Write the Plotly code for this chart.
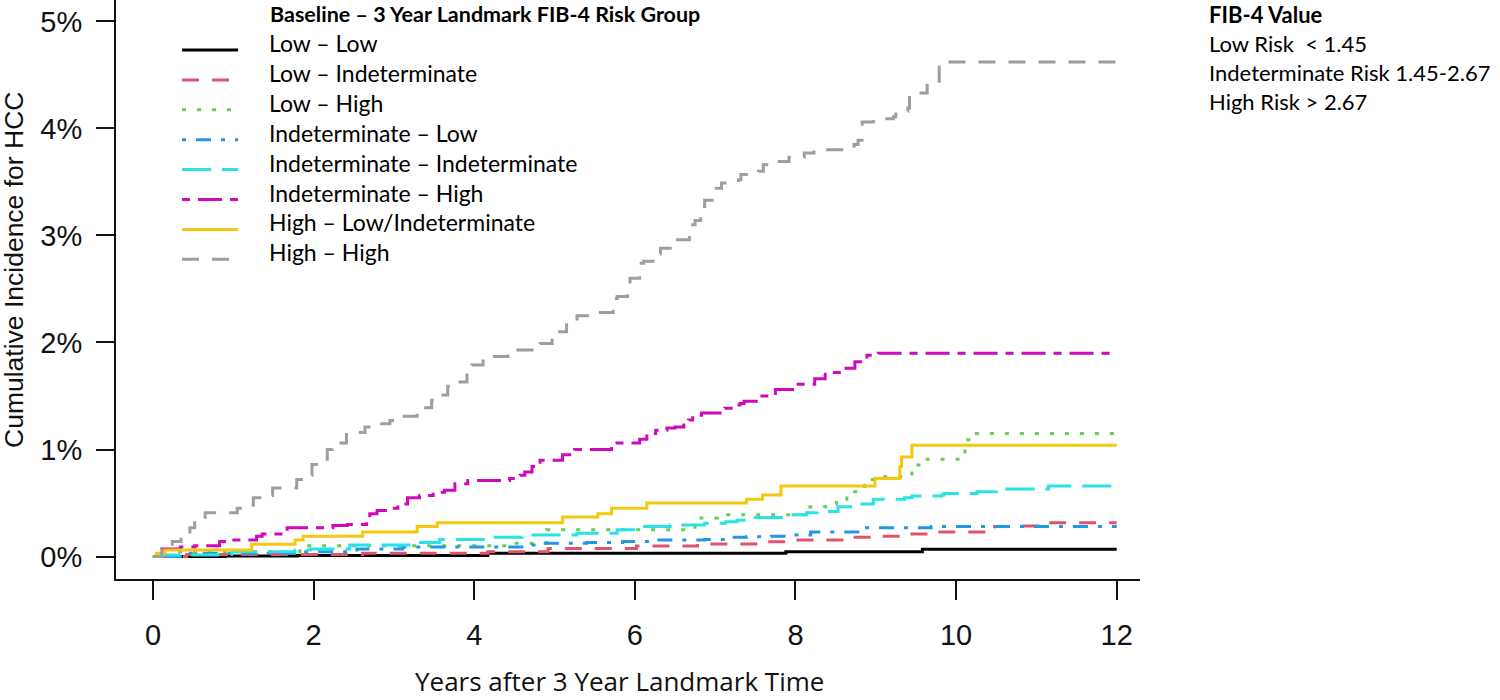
import plotly.graph_objects as go

# ---------------- data (years after landmark, cumulative incidence in %) ----------------
series_names = ["Low – Low", "Low – Indeterminate", "Low – High", "Indeterminate – Low",
                "Indeterminate – Indeterminate", "Indeterminate – High",
                "High – Low/Indeterminate", "High – High"]
series_colors = ["#000000", "#DF536B", "#61D04F", "#2297E6", "#28E2E5", "#CD0BBC", "#F5C710", "#9E9E9E"]
series_dash = ["solid", "17px,13px", "4px,11px", "4px,10px,15px,10px", "29px,11px",
               "8px,8px,24px,8px", "solid", "17px,13px"]

low_low_t = [0, 0.9, 1.8, 4.17, 7.88, 9.58, 12]
low_low_y = [0, 0.005, 0.01, 0.03, 0.045, 0.067, 0.067]

low_ind_t = [0, 0.42, 2.61, 4.17, 4.92, 6.02, 6.78, 7.55, 7.88, 8.62, 8.99, 9.34, 9.71, 10.46, 10.48, 10.80, 11.18, 12]
low_ind_y = [0, 0.02, 0.03, 0.045, 0.076, 0.098, 0.117, 0.138, 0.154, 0.18, 0.19, 0.21, 0.23, 0.254, 0.28, 0.285, 0.316, 0.316]

low_high_t = [0, 0.3, 1.83, 4.48, 4.90, 6.75, 7.03, 8.18, 8.40, 8.51, 8.64, 8.86, 9.04, 9.45, 9.58, 10.11, 10.22, 12]
low_high_y = [0, 0.045, 0.10, 0.125, 0.25, 0.36, 0.39, 0.465, 0.49, 0.535, 0.605, 0.72, 0.745, 0.855, 0.91, 1.09, 1.15, 1.15]

ind_low_t = [0, 0.37, 1.83, 2.54, 3.11, 4.67, 4.82, 5.40, 5.85, 6.22, 6.87, 7.20, 7.39, 7.70, 7.90, 8.19, 8.86, 9.69, 12]
ind_low_y = [0, 0.03, 0.045, 0.07, 0.09, 0.107, 0.123, 0.13, 0.14, 0.155, 0.16, 0.18, 0.185, 0.19, 0.20, 0.23, 0.27, 0.28, 0.28]

ind_ind_t = [0, 0.12, 0.80, 0.98, 1.77, 1.96, 2.45, 3.24, 3.57, 4.16, 4.60, 5.28, 5.78, 6.09, 6.44, 6.87, 7.13,
             7.27, 7.48, 7.97, 8.14, 8.27, 8.53, 8.79, 8.97, 9.36, 9.45, 9.82, 9.85, 10.26, 10.50, 11.15, 12]
ind_ind_y = [0, 0.015, 0.02, 0.045, 0.06, 0.07, 0.107, 0.13, 0.16, 0.18, 0.20, 0.217, 0.25, 0.28, 0.295, 0.31, 0.325,
             0.34, 0.365, 0.39, 0.41, 0.42, 0.465, 0.49, 0.535, 0.55, 0.565, 0.575, 0.59, 0.605, 0.63, 0.66, 0.66]

ind_high_t = [0, 0.05, 0.11, 0.34, 0.52, 0.83, 0.96, 1.29, 1.36, 1.67, 2.24, 2.42, 2.66, 2.70, 2.79, 2.95, 3.05, 3.17,
              3.32, 3.49, 3.63, 3.76, 3.92, 4.44, 4.57, 4.63, 4.72, 4.82, 5.10, 5.25, 5.71, 6.06, 6.15, 6.26, 6.40,
              6.50, 6.61, 6.67, 6.72, 6.83, 7.12, 7.20, 7.31, 7.36, 7.56, 7.75, 8.0, 8.24, 8.37, 8.61, 8.74, 8.89,
              9.03, 12]
ind_high_y = [0, 0.05, 0.07, 0.09, 0.10, 0.14, 0.155, 0.19, 0.21, 0.27, 0.29, 0.30, 0.36, 0.40, 0.43, 0.45, 0.49, 0.55,
              0.57, 0.60, 0.62, 0.68, 0.71, 0.73, 0.76, 0.79, 0.84, 0.90, 0.95, 1.00, 1.06, 1.095, 1.15, 1.18, 1.20,
              1.21, 1.245, 1.275, 1.32, 1.34, 1.385, 1.415, 1.43, 1.45, 1.50, 1.56, 1.61, 1.66, 1.72, 1.76, 1.82, 1.88,
              1.90, 1.90]

high_li_t = [0, 0.05, 0.15, 1.23, 1.77, 1.87, 2.61, 3.29, 3.54, 5.10, 5.54, 5.71, 6.15, 7.39, 7.59, 7.82, 8.99, 9.30, 9.32, 9.45, 12]
high_li_y = [0, 0.03, 0.06, 0.115, 0.155, 0.19, 0.23, 0.28, 0.315, 0.37, 0.40, 0.45, 0.50, 0.535, 0.575, 0.66, 0.73, 0.84, 0.93, 1.04, 1.04]

high_high_t = [0, 0.11, 0.24, 0.35, 0.46, 0.52, 0.65, 1.05, 1.11, 1.25, 1.33, 1.49, 1.79, 1.85, 1.98, 2.08, 2.17, 2.23,
               2.41, 2.51, 2.64, 2.79, 2.95, 3.07, 3.29, 3.32, 3.47, 3.55, 3.67, 3.76, 3.91, 3.97, 4.11, 4.19, 4.42,
               4.72, 4.82, 4.97, 5.00, 5.15, 5.28, 5.48, 5.73, 5.78, 5.91, 5.94, 6.06, 6.11, 6.30, 6.32, 6.47, 6.68,
               6.75, 6.82, 6.87, 6.99, 7.08, 7.29, 7.32, 7.54, 7.60, 7.80, 7.92, 8.11, 8.23, 8.73, 8.78, 8.83, 8.97,
               9.22, 9.25, 9.40, 9.42, 9.45, 9.64, 9.79, 12]
high_high_y = [0, 0.06, 0.14, 0.19, 0.27, 0.33, 0.41, 0.45, 0.48, 0.55, 0.57, 0.64, 0.72, 0.76, 0.86, 0.89, 1.00, 1.06,
               1.14, 1.16, 1.21, 1.24, 1.27, 1.31, 1.34, 1.39, 1.46, 1.51, 1.59, 1.63, 1.71, 1.79, 1.85, 1.87, 1.93,
               1.96, 1.99, 2.05, 2.10, 2.19, 2.25, 2.28, 2.41, 2.43, 2.55, 2.60, 2.74, 2.76, 2.83, 2.88, 2.96, 3.10,
               3.14, 3.27, 3.33, 3.44, 3.49, 3.52, 3.57, 3.60, 3.66, 3.69, 3.73, 3.77, 3.80, 3.85, 3.89, 4.06, 4.09,
               4.11, 4.16, 4.19, 4.31, 4.33, 4.42, 4.62, 4.62]

series_t = [low_low_t, low_ind_t, low_high_t, ind_low_t, ind_ind_t, ind_high_t, high_li_t, high_high_t]
series_y = [low_low_y, low_ind_y, low_high_y, ind_low_y, ind_ind_y, ind_high_y, high_li_y, high_high_y]

x_ticks = [0, 2, 4, 6, 8, 10, 12]
y_ticks = [0, 1, 2, 3, 4, 5]
y_tick_labels = ["0%", "1%", "2%", "3%", "4%", "5%"]

legend_title = "Baseline – 3 Year Landmark FIB-4 Risk Group"
fib_title = "FIB-4 Value"
fib_lines = ["Low Risk  < 1.45", "Indeterminate Risk 1.45-2.67", "High Risk > 2.67"]
x_title = "Years after 3 Year Landmark Time"
y_title = "Cumulative Incidence for HCC"

# ---------------- layout geometry ----------------
W, H = 1500, 700
ML = 116
PLOT_R = 1140
PLOT_B = 579
MR, MT, MB = W - PLOT_R, 0, H - PLOT_B
PW, PH = W - ML - MR, H - MT - MB


def px_x(p):
    return (p - ML) / PW


def px_y(p):
    return (PLOT_B - p) / PH


ARIAL = "Arial, Liberation Sans, sans-serif"
CALIBRI = "Lato, Carlito, Calibri, sans-serif"

fig = go.Figure()
for name, col, dash, t, y in zip(series_names, series_colors, series_dash, series_t, series_y):
    fig.add_trace(go.Scatter(x=t, y=y, mode="lines", name=name, line_shape="hv",
                             line=dict(color=col, width=3, dash=dash), showlegend=False))

fig.update_layout(
    width=W, height=H,
    margin=dict(l=ML, r=MR, t=MT, b=MB, pad=0),
    paper_bgcolor="white", plot_bgcolor="white",
    xaxis=dict(range=[-0.46, 12.29], tickvals=x_ticks, ticks="outside", ticklen=19, tickwidth=2,
               tickcolor="#111", showline=True, linewidth=2, linecolor="#111", showgrid=False,
               zeroline=False, tickfont=dict(family=ARIAL, size=29, color="#111"),
               ticklabelstandoff=10),
    yaxis=dict(range=[-0.21, 5.20], tickvals=y_ticks, ticktext=y_tick_labels, ticks="outside",
               ticklen=18, tickwidth=2, tickcolor="#111", showline=True, linewidth=2, linecolor="#111",
               showgrid=False, zeroline=False, tickfont=dict(family=ARIAL, size=29, color="#111"),
               ticklabelstandoff=8),
)

annotations = []
shapes = []
# legend title
annotations.append(dict(x=px_x(268), y=px_y(14), xref="paper", yref="paper", xanchor="left", yanchor="middle",
                        text="<b>" + legend_title + "</b>", showarrow=False,
                        font=dict(family=CALIBRI, size=21.5, color="black")))
row_pitch = 29.9
for i, (name, col, dash) in enumerate(zip(series_names, series_colors, series_dash)):
    ty = 43 + i * row_pitch
    ly = 50 + i * row_pitch
    annotations.append(dict(x=px_x(267), y=px_y(ty), xref="paper", yref="paper", xanchor="left",
                            yanchor="middle", text=name, showarrow=False,
                            font=dict(family=CALIBRI, size=23, color="black")))
    shapes.append(dict(type="line", xref="paper", yref="paper", x0=px_x(182), x1=px_x(238),
                       y0=px_y(ly), y1=px_y(ly), line=dict(color=col, width=3, dash=dash)))

# FIB-4 key
annotations.append(dict(x=px_x(1207), y=px_y(14), xref="paper", yref="paper", xanchor="left", yanchor="middle",
                        text="<b>" + fib_title + "</b>", showarrow=False,
                        font=dict(family=CALIBRI, size=22, color="black")))
for i, line in enumerate(fib_lines):
    annotations.append(dict(x=px_x(1207), y=px_y(43 + i * 29.5), xref="paper", yref="paper", xanchor="left",
                            yanchor="middle", text=line.replace("  ", "&nbsp; "), showarrow=False,
                            font=dict(family=CALIBRI, size=22, color="black")))

# axis titles
annotations.append(dict(x=px_x(619), y=px_y(681), xref="paper", yref="paper", xanchor="center", yanchor="middle",
                        text=x_title, showarrow=False, font=dict(family="Open Sans, sans-serif", size=26,
                                                                  color="#111")))
annotations.append(dict(x=px_x(14), y=px_y(270), xref="paper", yref="paper", xanchor="center", yanchor="middle",
                        text=y_title, textangle=-90, showarrow=False,
                        font=dict(family=ARIAL, size=26.5, color="#111")))

fig.update_layout(annotations=annotations, shapes=shapes)
fig.write_html("out.html", config={"displayModeBar": False},
               post_script="document.body.style.margin='0';document.body.style.overflow='hidden';")
